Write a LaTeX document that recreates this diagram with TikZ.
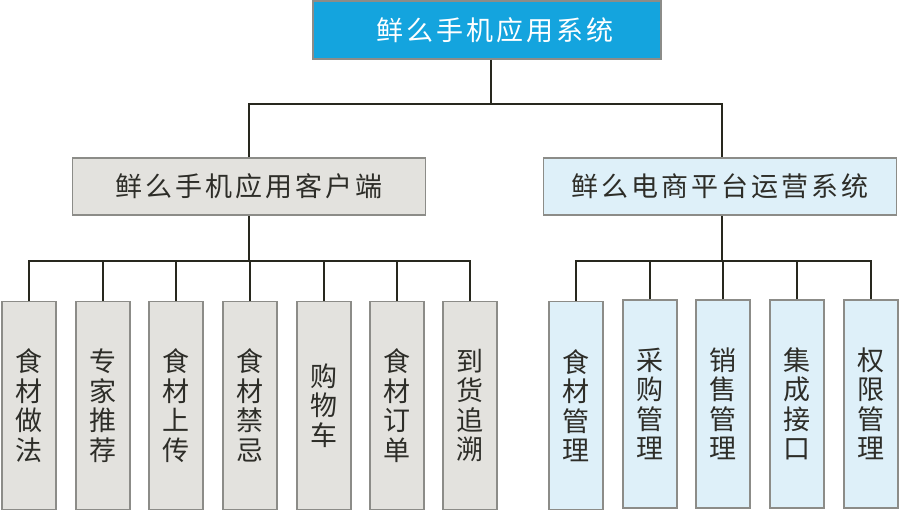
\documentclass[tikz,border=0pt]{standalone}
\usepackage{fontspec}
\newfontfamily\cjk{Noto Sans CJK SC}
\newfontfamily\cjkwide[LetterSpace=11.5]{Noto Sans CJK SC}
\usepackage{tikz}

\definecolor{topblue}{RGB}{20,164,222}
\definecolor{boxgray}{RGB}{227,226,222}
\definecolor{boxblue}{RGB}{222,240,249}
\definecolor{edgegray}{RGB}{140,140,136}
\definecolor{linedark}{RGB}{40,40,30}
\definecolor{textdark}{RGB}{45,45,40}

\tikzset{
  box/.style={draw=edgegray, line width=1.5pt, inner sep=0pt, text=textdark},
  topbox/.style={box, fill=topblue, text=white, minimum width=348pt, minimum height=58pt, font=\cjkwide\fontsize{27}{30}\selectfont},
  midbox/.style={box, minimum width=353pt, minimum height=57pt, font=\cjkwide\fontsize{27}{30}\selectfont},
  leafbox/.style={box, minimum width=54pt, minimum height=208pt, align=center, font=\cjk\fontsize{27}{29.5}\selectfont},
  bus/.style={draw=linedark, line width=1.6pt}
}

\begin{document}
\begin{tikzpicture}[x=1pt, y=1pt]
  \useasboundingbox (0,0) rectangle (922,-514);
  % top level
  \node [topbox] (app) at (487,-30) {\hspace*{16pt}鲜么手机应用系统};
  % second level
  \node [midbox, fill=boxgray] (client) at (249,-186.5) {鲜么手机应用客户端};
  \node [midbox, fill=boxblue] (ops) at (720,-186.5) {鲜么电商平台运营系统};
  % client leaves
  \node [leafbox, fill=boxgray] (c1) at (29,-405.5) {食\\材\\做\\法};
  \node [leafbox, fill=boxgray] (c2) at (103,-405.5) {专\\家\\推\\荐};
  \node [leafbox, fill=boxgray] (c3) at (176,-405.5) {食\\材\\上\\传};
  \node [leafbox, fill=boxgray] (c4) at (250,-405.5) {食\\材\\禁\\忌};
  \node [leafbox, fill=boxgray] (c5) at (324,-405.5) {购\\物\\车};
  \node [leafbox, fill=boxgray] (c6) at (397,-405.5) {食\\材\\订\\单};
  \node [leafbox, fill=boxgray] (c7) at (470,-405.5) {到\\货\\追\\溯};
  % ops leaves
  \node [leafbox, fill=boxblue] (o1) at (576,-405.5) {食\\材\\管\\理};
  \node [leafbox, fill=boxblue] (o2) at (650,-404) {采\\购\\管\\理};
  \node [leafbox, fill=boxblue] (o3) at (723,-404) {销\\售\\管\\理};
  \node [leafbox, fill=boxblue] (o4) at (797,-404) {集\\成\\接\\口};
  \node [leafbox, fill=boxblue] (o5) at (871,-404) {权\\限\\管\\理};
  % buses
  \coordinate (appbus) at (491,-104);
  \coordinate (clientbus) at (249,-261);
  \coordinate (opsbus) at (722,-261);
  \draw [bus] (app.south -| appbus) -- (appbus);
  \draw [bus] (client.north -| 249,0) |- (appbus) -| (ops.north -| opsbus);
  \draw [bus] (client.south -| 249,0) -- (clientbus);
  \draw [bus] (ops.south -| opsbus) -- (opsbus);
  \draw [bus] (c1.north) |- (clientbus) -| (c7.north);
  \foreach \n in {c2,c3,c4,c5,c6}
    \draw [bus] (\n.north) -- (\n.north |- clientbus);
  \draw [bus] (o1.north) |- (opsbus) -| (o5.north);
  \foreach \n in {o2,o3,o4}
    \draw [bus] (\n.north) -- (\n.north |- opsbus);
\end{tikzpicture}
\end{document}
